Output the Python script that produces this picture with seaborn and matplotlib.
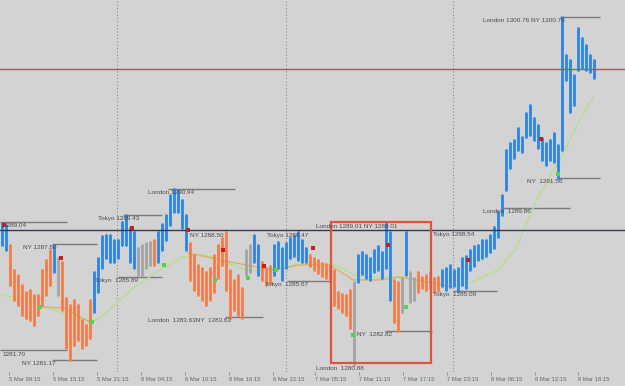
import matplotlib
matplotlib.use("Agg")
import matplotlib.pyplot as plt
import seaborn as sns
import pandas as pd
from matplotlib.patches import Rectangle

# ---------------- data ----------------
bar_high = [
    1288.99, 1288.87, 1287.73, 1286.30, 1286.02, 1285.45, 1285.05, 1285.16, 1284.87, 1284.87,
    1286.30, 1286.87, 1287.44, 1287.73, 1286.99, 1286.76, 1284.70, 1284.30, 1284.59, 1284.30,
    1283.44, 1283.16, 1284.59, 1286.19, 1286.99, 1288.24, 1288.30, 1288.30, 1288.02, 1288.02,
    1289.04, 1289.44, 1288.70, 1288.47, 1287.56, 1287.73, 1287.84, 1287.90, 1288.02, 1288.47,
    1288.93, 1289.44, 1290.59, 1290.93, 1290.87, 1290.30, 1289.44, 1287.84, 1287.16, 1286.59,
    1286.42, 1286.19, 1286.42, 1287.16, 1287.73, 1288.13, 1288.47, 1286.30, 1285.73, 1286.02,
    1285.27, 1287.44, 1287.73, 1288.30, 1287.73, 1286.76, 1286.42, 1286.53, 1287.73, 1287.90,
    1287.56, 1287.84, 1288.13, 1288.24, 1288.47, 1288.02, 1287.56, 1287.16, 1286.99, 1286.87,
    1286.70, 1286.64, 1286.53, 1286.30, 1285.05, 1284.93, 1284.87, 1285.16, 1285.62, 1287.16,
    1287.33, 1287.16, 1286.99, 1287.44, 1287.67, 1287.33, 1289.01, 1288.47, 1285.73, 1285.62,
    1285.85, 1288.47, 1286.19, 1285.85, 1286.19, 1285.90, 1286.02, 1286.19, 1285.85, 1285.90,
    1286.30, 1286.42, 1286.59, 1286.30, 1286.42, 1286.99, 1287.10, 1287.44, 1287.67, 1287.73,
    1288.02, 1288.02, 1288.30, 1288.76, 1289.62, 1290.59, 1293.16, 1293.56, 1293.73, 1294.42,
    1293.90, 1295.27, 1295.73, 1294.99, 1294.59, 1293.84, 1293.56, 1293.73, 1294.13, 1293.44,
    1300.76, 1298.59, 1298.30, 1297.44, 1300.13, 1299.56, 1299.16, 1298.59, 1298.30,
]
bar_low = [
    1287.73, 1287.44, 1285.45, 1284.59, 1284.30, 1283.73, 1283.56, 1283.44, 1283.16, 1283.73,
    1284.30, 1284.87, 1285.45, 1286.19, 1284.87, 1284.02, 1281.85, 1281.16, 1282.02, 1282.30,
    1281.85, 1282.02, 1282.42, 1283.90, 1285.05, 1286.42, 1286.99, 1286.76, 1286.76, 1286.99,
    1287.73, 1287.73, 1286.76, 1286.42, 1286.02, 1286.02, 1286.42, 1286.59, 1286.59, 1286.76,
    1287.44, 1288.02, 1288.87, 1289.62, 1289.62, 1288.70, 1287.44, 1285.73, 1285.16, 1284.87,
    1284.59, 1284.30, 1284.59, 1285.05, 1285.85, 1286.59, 1285.16, 1283.56, 1284.02, 1283.73,
    1283.56, 1286.02, 1286.19, 1286.76, 1286.02, 1285.73, 1285.45, 1285.56, 1286.02, 1286.42,
    1285.73, 1286.42, 1286.99, 1287.10, 1286.87, 1286.76, 1286.76, 1286.53, 1286.30, 1286.13,
    1285.96, 1285.85, 1285.62, 1284.30, 1284.13, 1283.90, 1283.73, 1282.99, 1280.88, 1285.62,
    1286.07, 1285.85, 1285.73, 1286.19, 1286.30, 1285.85, 1286.42, 1284.59, 1283.33, 1282.82,
    1283.90, 1286.02, 1284.47, 1284.59, 1285.05, 1285.27, 1285.16, 1285.27, 1285.05, 1285.10,
    1285.39, 1285.16, 1285.33, 1285.39, 1285.09, 1285.45, 1285.27, 1286.30, 1286.53, 1286.87,
    1286.99, 1287.10, 1287.33, 1287.56, 1288.19, 1289.44, 1290.87, 1292.13, 1292.70, 1293.16,
    1293.04, 1293.90, 1294.02, 1293.73, 1293.27, 1292.59, 1292.30, 1292.59, 1292.47, 1291.56,
    1293.16, 1297.16, 1295.33, 1295.73, 1297.73, 1297.84, 1297.73, 1297.62, 1297.27,
]
# bar colouring: runs of (trend code, number of bars)  B=up, O=down, G=flat
trend_runs = [("B", 2), ("O", 11), ("B", 1), ("G", 1), ("O", 8), ("B", 11), ("G", 4),
              ("O", 1), ("B", 8), ("O", 14), ("G", 2), ("B", 2), ("O", 3), ("B", 9),
              ("O", 11), ("G", 1), ("B", 9), ("O", 2), ("G", 1), ("B", 1), ("G", 2),
              ("O", 3), ("G", 1), ("O", 2), ("B", 39)]

# time axis labels and the bar they sit on
time_labels = ["5 Mar 09:15", "5 Mar 15:15", "5 Mar 21:15", "6 Mar 04:15", "6 Mar 10:15",
               "6 Mar 16:15", "6 Mar 22:15", "7 Mar 05:15", "7 Mar 11:15", "7 Mar 17:15",
               "7 Mar 23:15", "8 Mar 06:15", "8 Mar 12:15", "8 Mar 18:15"]
time_label_bar = [1.75, 12.75, 23.75, 34.75, 45.75, 56.75, 67.75, 78.25, 89.25, 100.25,
                  111.25, 122.25, 133.25, 144.0]
day_separator_bar = [28.75, 71.0, 112.75]

# green moving average
ma_green_bar = [-0.5, 7, 14.5, 22, 24.5, 28.75, 32.75, 39.5, 45.25, 49.5, 53.25, 60.75, 65,
                72, 75.75, 82.75, 88.75, 95.25, 99.5, 107, 113.25, 118.25, 124, 128.25,
                131.25, 134, 137.5, 140.75, 144, 147.75]
ma_green_price = [1284.93, 1284.47, 1283.90, 1283.33, 1283.56, 1284.42, 1285.27, 1286.30,
                  1287.04, 1287.21, 1286.99, 1286.30, 1286.24, 1286.53, 1286.70, 1286.64,
                  1285.96, 1285.85, 1285.90, 1285.56, 1285.33, 1285.67, 1286.30, 1287.44,
                  1288.99, 1290.47, 1291.84, 1293.16, 1294.70, 1296.19]
# tan signal line (two pieces)
tan_piece = [0, 0, 0, 1, 1, 1, 1, 1, 1, 1, 1, 1, 1]
tan_bar = [9.5, 15.25, 22, 46.5, 57, 67.75, 74.5, 82, 87.75, 94.5, 99.5, 107.75, 112.75]
tan_price = [1284.19, 1284.13, 1283.33, 1287.27, 1286.76, 1286.30, 1286.59, 1286.59,
             1285.73, 1285.73, 1285.90, 1285.56, 1285.33]

# signal dots
red_dot_bar = [0.5, 14.75, 32.5, 46.5, 55.25, 65.5, 77.75, 96.5, 116.5, 134.75]
red_dot_price = [1288.87, 1286.99, 1288.70, 1288.59, 1287.44, 1286.53, 1287.56, 1287.73,
                 1286.87, 1293.79]
green_dot_bar = [9.5, 22.5, 40.5, 53.25, 61.5, 68.5, 87.75, 101, 139]
green_dot_price = [1284.19, 1283.33, 1286.59, 1285.73, 1285.85, 1286.30, 1282.59, 1284.19,
                   1291.79]

# session level labels
level_text = ["1289.04", "NY 1287.80", "Tokyo 1289.43", "London 1290.94", "NY 1288.50",
              "Tokyo 1288.47", "Tokyo  1285.89", "Tokyo  1285.67", "London  1283.63NY  1283.63",
              "1281.70", "NY 1281.17", "London 1289.01 NY 1289.01", "Tokyo 1288.54",
              "NY  1282.82", "London  1280.88", "Tokyo  1285.09", "London  1289.86",
              "NY  1291.56", "London 1300.76 NY 1300.76"]
level_price = [1289.04, 1287.80, 1289.43, 1290.94, 1288.50, 1288.47, 1285.89, 1285.67,
               1283.63, 1281.70, 1281.17, 1289.01, 1288.54, 1282.82, 1280.88, 1285.09,
               1289.86, 1291.56, 1300.76]
level_text_bar = [0.25, 5.25, 24, 36.5, 47, 66.25, 23.25, 65.75, 36.5, 0, 5, 78.5, 107.75,
                  88.75, 78.5, 107.75, 120.25, 131.25, 120.25]
level_line_from = [-0.5, 12.5, 30.25, 41.5, None, None, 28.75, 71.25, 55.75, -0.5, 12.5,
                   None, None, 95.75, None, 112.75, 125.25, 139, 139.5]
level_line_to = [16.25, 23.75, 40, 58.25, None, None, 40, 82, 65.25, 16.25, 23.75,
                 None, None, 107.5, None, 123.75, 142, 149.5, 149.5]

mid_line_price = 1288.57
bid_line_price = 1297.79
box_bars = [82.25, 107.25]
box_prices = [1280.99, 1289.04]

# ---------------- figure ----------------
sns.set_theme(style="white")
plt.rcParams["font.family"] = ["Liberation Sans", "DejaVu Sans"]

BG = "#d3d3d3"
fig = plt.figure(figsize=(6.25, 3.86), dpi=100, facecolor=BG)
ax = fig.add_axes([0, 14 / 386, 1, 372 / 386], facecolor=BG)

trend = [code for code, n in trend_runs for _ in range(n)]
rows = []
for i, (h, l, t) in enumerate(zip(bar_high, bar_low, trend)):
    rows.append({"bar": i, "price": h, "trend": t})
    rows.append({"bar": i, "price": l, "trend": t})
bars = pd.DataFrame(rows)

# day separators
for b in day_separator_bar:
    ax.axvline(b, color="#8c8c8c", lw=0.8, ls=(0, (1, 2)), zorder=1)

# level lines
for p, a, b in zip(level_price, level_line_from, level_line_to):
    if a is not None:
        ax.hlines(p, a, b, color="#7c7c7c", lw=1.0, zorder=1.5)

# moving averages
sns.lineplot(x=ma_green_bar, y=ma_green_price, color="#b5df8f", lw=1.0, ax=ax,
             sort=False, zorder=2)
tan = pd.DataFrame({"bar": tan_bar, "price": tan_price, "piece": tan_piece})
sns.lineplot(data=tan, x="bar", y="price", units="piece", estimator=None, color="#d8b36a",
             lw=1.0, ax=ax, sort=False, zorder=2)

# price bars
sns.lineplot(data=bars, x="bar", y="price", units="bar", estimator=None, hue="trend",
             palette={"B": "#2b86e3", "O": "#f47c48", "G": "#a4a4a4"}, lw=2.0,
             legend=False, ax=ax, sort=False, zorder=3)

# dots
sns.scatterplot(x=red_dot_bar, y=red_dot_price, color="#c81e1e", s=6, marker="s",
                linewidth=0, ax=ax, zorder=5)
sns.scatterplot(x=green_dot_bar, y=green_dot_price, color="#55d055", s=6, marker="s",
                linewidth=0, ax=ax, zorder=5)

# full-width lines
ax.axhline(mid_line_price, color="#3a3a4e", lw=1.0, zorder=4)
ax.axhline(bid_line_price, color="#a85a5a", lw=1.0, zorder=4)

# rectangle
ax.add_patch(Rectangle((box_bars[0], box_prices[0]), box_bars[1] - box_bars[0],
                       box_prices[1] - box_prices[0], fill=False, ec="#e0553a", lw=1.6,
                       zorder=4))

# labels
for txt, p, b in zip(level_text, level_price, level_text_bar):
    ax.annotate(txt, xy=(b, p), xytext=(0, -0.8), textcoords="offset points",
                ha="left", va="top", fontsize=4.6, color="#4a4a4a", zorder=6)

ax.set_xlim(-0.5, 155.75)
ax.set_ylim(1280.47, 1301.73)
ax.set_xticks(time_label_bar)
ax.set_xticklabels(time_labels, fontsize=4.2, color="#666666", ha="left")
ax.tick_params(axis="x", bottom=True, length=2.5, width=0.6, color="#888888", pad=1.0,
               direction="out")
ax.set_yticks([])
ax.set_xlabel("")
ax.set_ylabel("")
for s in ax.spines.values():
    s.set_visible(False)

fig.savefig("out.png", dpi=100, facecolor=BG)
